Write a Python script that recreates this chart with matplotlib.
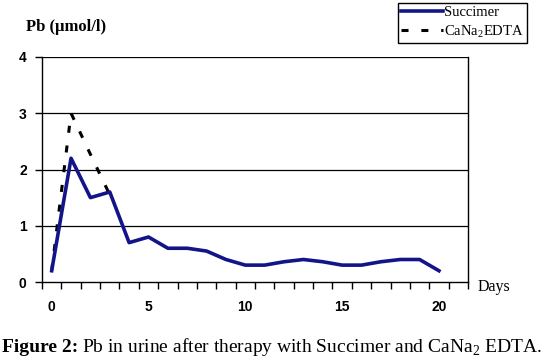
import matplotlib
matplotlib.use("Agg")
import matplotlib.pyplot as plt
from matplotlib.lines import Line2D

plt.rcParams['mathtext.fontset'] = 'custom'
plt.rcParams['mathtext.rm'] = 'Liberation Serif'
plt.rcParams['mathtext.bf'] = 'Liberation Serif:bold'

days = list(range(21))
succimer = [0.2, 2.2, 1.5, 1.6, 0.7, 0.8, 0.6, 0.6, 0.55, 0.4, 0.3,
            0.3, 0.36, 0.4, 0.36, 0.3, 0.3, 0.36, 0.4, 0.4, 0.2]
edta_days = [0, 1, 2, 3]
edta = [0.2, 3.0, 2.27, 1.55]
xtick_vals = [0, 5, 10, 15, 20]
ytick_vals = [0, 1, 2, 3, 4]

W, H = 542, 364
fig = plt.figure(figsize=(W / 100, H / 100), dpi=100)
ax = fig.add_axes([42 / W, 1 - 282 / H, 426 / W, 225 / H])

navy = '#14148a'
ax.plot(edta_days, edta, color='black', lw=2.2, linestyle=(0, (2.3, 4.2)),
        solid_capstyle='butt', dash_capstyle='butt', zorder=3)
ax.plot(days, succimer, color=navy, lw=2.6, zorder=4)

ax.set_xlim(-0.5, 21.5)
ax.set_ylim(0, 4)
for y in ytick_vals[1:]:
    ax.axhline(y, color='black', lw=0.9, zorder=1)

for s in ['left', 'bottom', 'right']:
    ax.spines[s].set_linewidth(1.0)
    ax.spines[s].set_color('black')
ax.spines['top'].set_visible(False)

ax.set_yticks(ytick_vals)
ax.set_yticklabels([str(v) for v in ytick_vals], fontfamily='Liberation Sans',
                   fontweight='bold', fontsize=10)
ax.tick_params(axis='y', direction='out', length=5, width=1, pad=6)

ax.set_xticks([v - 0.5 for v in range(23)], minor=True)
ax.set_xticks(xtick_vals)
ax.set_xticklabels([str(v) for v in xtick_vals], fontfamily='Liberation Sans',
                   fontweight='bold', fontsize=10)
ax.tick_params(axis='x', which='major', length=0, pad=13)
ax.tick_params(axis='x', which='minor', direction='out', length=5, width=1)

fig.text(26 / W, 1 - 27 / H, 'Pb (\u00b5mol/l)', fontfamily='Liberation Serif',
         fontweight='bold', fontsize=12, ha='left', va='center')
fig.text(478 / W, 1 - 287 / H, 'Days', fontfamily='Liberation Serif',
         fontsize=11.5, ha='left', va='center')

handles = [Line2D([], [], color=navy, lw=2.6),
           Line2D([], [], color='black', lw=2.2, linestyle=(0, (2.3, 4.2)))]
leg = fig.legend(handles, ['Succimer', r'CaNa$_2$EDTA'],
                 loc='upper left', bbox_to_anchor=(398 / W, 1 - 3 / H),
                 prop={'family': 'Liberation Serif', 'size': 10.5},
                 frameon=True, fancybox=False, framealpha=1, edgecolor='black',
                 handlelength=2.9, handletextpad=0.05, borderpad=0.2,
                 labelspacing=0.3, borderaxespad=0)
leg.get_frame().set_linewidth(1.0)

# caption
t1 = fig.text(2 / W, 1 - 347 / H, 'Figure 2:', fontfamily='Liberation Serif',
              fontweight='bold', fontsize=14, ha='left', va='center')
fig.canvas.draw()
r = fig.canvas.get_renderer()
bb = t1.get_window_extent(r)
x2 = bb.x1 / fig.bbox.width + 4 / W
fig.text(x2, 1 - 347 / H, r'Pb in urine after therapy with Succimer and CaNa$_2$ EDTA.',
         fontfamily='Liberation Serif', fontsize=14, ha='left', va='center')

fig.savefig('out.png', dpi=100)
